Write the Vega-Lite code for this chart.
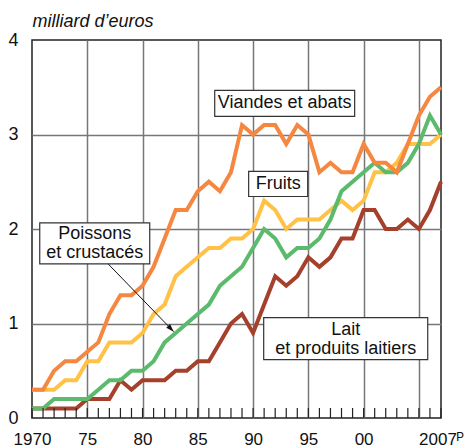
{
  "$schema": "https://vega.github.io/schema/vega-lite/v6.json",
  "width": 409,
  "height": 378,
  "autosize": {"type": "none"},
  "padding": {"left": 32, "top": 40, "right": 30, "bottom": 30},
  "background": "white",
  "config": {
    "view": {"stroke": "#222", "strokeWidth": 1.5},
    "font": "Liberation Sans",
    "axis": {"labelFont": "Liberation Sans", "labelColor": "#111", "labelFontSize": 17}
  },
  "datasets": {
    "series": [
      {"year": 1970, "Viandes": 0.3, "Fruits": 0.3, "Poissons": 0.1, "Lait": 0.1},
      {"year": 1971, "Viandes": 0.3, "Fruits": 0.3, "Poissons": 0.1, "Lait": 0.1},
      {"year": 1972, "Viandes": 0.5, "Fruits": 0.3, "Poissons": 0.2, "Lait": 0.1},
      {"year": 1973, "Viandes": 0.6, "Fruits": 0.4, "Poissons": 0.2, "Lait": 0.1},
      {"year": 1974, "Viandes": 0.6, "Fruits": 0.4, "Poissons": 0.2, "Lait": 0.1},
      {"year": 1975, "Viandes": 0.7, "Fruits": 0.6, "Poissons": 0.2, "Lait": 0.2},
      {"year": 1976, "Viandes": 0.8, "Fruits": 0.6, "Poissons": 0.3, "Lait": 0.2},
      {"year": 1977, "Viandes": 1.1, "Fruits": 0.8, "Poissons": 0.4, "Lait": 0.2},
      {"year": 1978, "Viandes": 1.3, "Fruits": 0.8, "Poissons": 0.4, "Lait": 0.4},
      {"year": 1979, "Viandes": 1.3, "Fruits": 0.8, "Poissons": 0.5, "Lait": 0.3},
      {"year": 1980, "Viandes": 1.4, "Fruits": 0.9, "Poissons": 0.5, "Lait": 0.4},
      {"year": 1981, "Viandes": 1.6, "Fruits": 1.1, "Poissons": 0.6, "Lait": 0.4},
      {"year": 1982, "Viandes": 1.9, "Fruits": 1.2, "Poissons": 0.8, "Lait": 0.4},
      {"year": 1983, "Viandes": 2.2, "Fruits": 1.5, "Poissons": 0.9, "Lait": 0.5},
      {"year": 1984, "Viandes": 2.2, "Fruits": 1.6, "Poissons": 1.0, "Lait": 0.5},
      {"year": 1985, "Viandes": 2.4, "Fruits": 1.7, "Poissons": 1.1, "Lait": 0.6},
      {"year": 1986, "Viandes": 2.5, "Fruits": 1.8, "Poissons": 1.2, "Lait": 0.6},
      {"year": 1987, "Viandes": 2.4, "Fruits": 1.8, "Poissons": 1.4, "Lait": 0.8},
      {"year": 1988, "Viandes": 2.6, "Fruits": 1.9, "Poissons": 1.5, "Lait": 1.0},
      {"year": 1989, "Viandes": 3.1, "Fruits": 1.9, "Poissons": 1.6, "Lait": 1.1},
      {"year": 1990, "Viandes": 3.0, "Fruits": 2.0, "Poissons": 1.8, "Lait": 0.9},
      {"year": 1991, "Viandes": 3.1, "Fruits": 2.3, "Poissons": 2.0, "Lait": 1.2},
      {"year": 1992, "Viandes": 3.1, "Fruits": 2.2, "Poissons": 1.9, "Lait": 1.5},
      {"year": 1993, "Viandes": 2.9, "Fruits": 2.0, "Poissons": 1.7, "Lait": 1.4},
      {"year": 1994, "Viandes": 3.1, "Fruits": 2.1, "Poissons": 1.8, "Lait": 1.5},
      {"year": 1995, "Viandes": 3.0, "Fruits": 2.1, "Poissons": 1.8, "Lait": 1.7},
      {"year": 1996, "Viandes": 2.6, "Fruits": 2.1, "Poissons": 1.9, "Lait": 1.6},
      {"year": 1997, "Viandes": 2.7, "Fruits": 2.2, "Poissons": 2.1, "Lait": 1.7},
      {"year": 1998, "Viandes": 2.6, "Fruits": 2.3, "Poissons": 2.4, "Lait": 1.9},
      {"year": 1999, "Viandes": 2.6, "Fruits": 2.2, "Poissons": 2.5, "Lait": 1.9},
      {"year": 2000, "Viandes": 2.9, "Fruits": 2.3, "Poissons": 2.6, "Lait": 2.2},
      {"year": 2001, "Viandes": 2.7, "Fruits": 2.6, "Poissons": 2.7, "Lait": 2.2},
      {"year": 2002, "Viandes": 2.7, "Fruits": 2.6, "Poissons": 2.6, "Lait": 2.0},
      {"year": 2003, "Viandes": 2.6, "Fruits": 2.7, "Poissons": 2.6, "Lait": 2.0},
      {"year": 2004, "Viandes": 2.9, "Fruits": 2.9, "Poissons": 2.7, "Lait": 2.1},
      {"year": 2005, "Viandes": 3.2, "Fruits": 2.9, "Poissons": 2.9, "Lait": 2.0},
      {"year": 2006, "Viandes": 3.4, "Fruits": 2.9, "Poissons": 3.2, "Lait": 2.2},
      {"year": 2007, "Viandes": 3.5, "Fruits": 3.0, "Poissons": 3.0, "Lait": 2.5}
    ],
    "boxes": [
      {"x1": 1986.53, "x2": 1999.19, "y1": 3.192, "y2": 3.467},
      {"x1": 1989.6, "x2": 1994.94, "y1": 2.344, "y2": 2.609},
      {"x1": 1970.7, "x2": 1980.65, "y1": 1.631, "y2": 2.065},
      {"x1": 1990.96, "x2": 2005.8, "y1": 0.6175, "y2": 1.0625}
    ],
    "notes": [
      {"x": 1992.86, "y": 3.33, "label": "Viandes et abats"},
      {"x": 1992.27, "y": 2.477, "label": "Fruits"},
      {"x": 1975.67, "y": 1.942, "label": "Poissons\net crustacés"},
      {"x": 1998.38, "y": 0.935, "label": "Lait\net produits laitiers"}
    ],
    "arrow": [
      {"x1": 1976.77, "y1": 1.645, "x2": 1982.82, "y2": 0.914}
    ]
  },
  "layer": [
    {
      "data": {"name": "series"},
      "transform": [{"fold": ["Lait", "Fruits", "Poissons", "Viandes"], "as": ["serie", "value"]}],
      "mark": {"type": "line", "strokeWidth": 4},
      "encoding": {
        "x": {
          "field": "year", "type": "quantitative",
          "scale": {"domain": [1970, 2007], "nice": false, "zero": false},
          "axis": {
            "values": [1970, 1975, 1980, 1985, 1990, 1995, 2000, 2005, 2007],
            "format": "d",
            "labelExpr": "datum.value == 1970 ? '1970' : datum.value == 2007 ? '2007ᴾ' : datum.value == 2005 ? '' : substring(datum.label, 2, 4)",
            "labelFlush": false,
            "labelOverlap": false,
            "labelBaseline": "alphabetic",
            "labelPadding": 26,
            "ticks": false,
            "domain": false,
            "grid": true,
            "gridColor": {"condition": {"test": "datum.value == 1970 || datum.value == 2007", "value": "transparent"}, "value": "#777"},
            "gridWidth": 1.5,
            "title": null
          }
        },
        "y": {
          "field": "value", "type": "quantitative",
          "scale": {"domain": [0, 4], "nice": false},
          "axis": {
            "values": [0, 1, 2, 3, 4],
            "format": "d",
            "ticks": false,
            "domain": false,
            "labelPadding": 14,
            "labelFontSize": 18,
            "grid": true,
            "gridColor": {"condition": {"test": "datum.value == 0 || datum.value == 4", "value": "transparent"}, "value": "#777"},
            "gridWidth": 1.5,
            "title": "milliard d’euros",
            "titleAngle": 0,
            "titleX": 0,
            "titleY": -14,
            "titleAlign": "left",
            "titleBaseline": "alphabetic",
            "titleFont": "Liberation Sans",
            "titleFontStyle": "italic",
            "titleFontWeight": "normal",
            "titleFontSize": 18,
            "titleColor": "#111"
          }
        },
        "color": {
          "field": "serie", "type": "nominal",
          "scale": {"domain": ["Lait", "Fruits", "Poissons", "Viandes"], "range": ["#A4402B", "#FFC247", "#5BBA6B", "#F58741"]},
          "legend": null
        }
      }
    },
    {
      "data": {"name": "series"},
      "mark": {"type": "rule", "color": "#222", "strokeWidth": 1.2},
      "encoding": {
        "x": {"field": "year", "type": "quantitative"},
        "y": {"datum": 0, "type": "quantitative"},
        "y2": {"datum": 0.106}
      }
    },
    {
      "data": {"name": "arrow"},
      "mark": {"type": "rule", "color": "#111", "strokeWidth": 1},
      "encoding": {
        "x": {"field": "x1", "type": "quantitative"},
        "y": {"field": "y1", "type": "quantitative"},
        "x2": {"field": "x2"},
        "y2": {"field": "y2"}
      }
    },
    {
      "data": {"name": "arrow"},
      "mark": {"type": "point", "shape": "M0,0L-2,-0.65L-2,0.65Z", "size": 64, "filled": true, "color": "#111", "opacity": 1, "angle": 46},
      "encoding": {
        "x": {"field": "x2", "type": "quantitative"},
        "y": {"field": "y2", "type": "quantitative"}
      }
    },
    {
      "data": {"name": "boxes"},
      "mark": {"type": "rect", "fill": "white", "stroke": "#333", "strokeWidth": 1.2},
      "encoding": {
        "x": {"field": "x1", "type": "quantitative"},
        "x2": {"field": "x2"},
        "y": {"field": "y1", "type": "quantitative"},
        "y2": {"field": "y2"}
      }
    },
    {
      "data": {"name": "notes"},
      "mark": {"type": "text", "font": "Liberation Sans", "fontSize": 18, "color": "#111", "align": "center", "baseline": "middle", "lineBreak": "\n", "lineHeight": 19},
      "encoding": {
        "x": {"field": "x", "type": "quantitative"},
        "y": {"field": "y", "type": "quantitative"},
        "text": {"field": "label", "type": "nominal"}
      }
    }
  ]
}
